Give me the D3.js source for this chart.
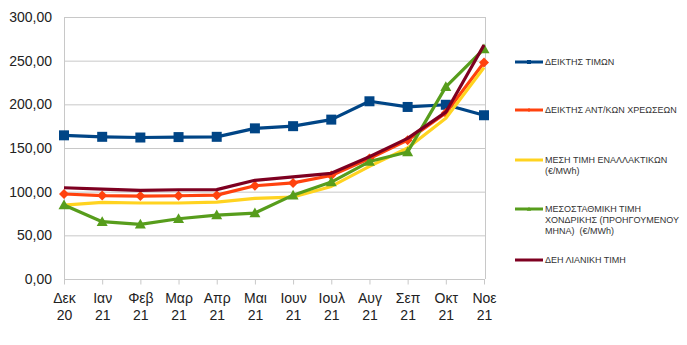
<!DOCTYPE html>
<html>
<head>
<meta charset="utf-8">
<script src="https://cdn.jsdelivr.net/npm/d3@7"></script>
<style>
  html, body { margin: 0; padding: 0; background: #fff; }
  svg { display: block; font-family: "Liberation Sans", Arial, sans-serif; }
  .legend text { white-space: pre; }
</style>
</head>
<body>
<svg id="chart" width="687" height="345"></svg>
<script>
// Months (two-line labels: month / year)
const months = ["Δεκ", "Ιαν", "Φεβ", "Μαρ", "Απρ", "Μαι", "Ιουν", "Ιουλ", "Αυγ", "Σεπ", "Οκτ", "Νοε"];
const years  = ["20", "21", "21", "21", "21", "21", "21", "21", "21", "21", "21", "21"];

// Series values
const priceIndex   = [164.5, 162.8, 162.0, 162.5, 162.8, 172.5, 175.0, 182.5, 203.5, 197.0, 199.5, 187.5];
const chargesIndex = [97.3, 95.5, 95.0, 95.3, 96.0, 106.8, 110.0, 118.5, 138.0, 159.0, 190.0, 248.0];
const altAverage   = [84.7, 87.7, 87.0, 87.0, 88.0, 92.3, 93.8, 106.0, 129.0, 150.0, 184.0, 242.0];
const wholesale    = [84.7, 65.6, 62.6, 69.0, 73.2, 75.5, 96.0, 111.0, 134.5, 145.5, 220.0, 263.5];
const deiRetail    = [104.5, 102.8, 101.5, 102.2, 102.4, 113.0, 117.0, 121.0, 140.0, 161.0, 191.0, 268.0];

const yTicks = [0, 50, 100, 150, 200, 250, 300];

const seriesList = [
  { name: ["ΔΕΙΚΤΗΣ ΤΙΜΩΝ"], values: priceIndex, color: "#004586", marker: "square" },
  { name: ["ΔΕΙΚΤΗΣ ΑΝΤ/ΚΩΝ ΧΡΕΩΣΕΩΝ"], values: chargesIndex, color: "#ff420e", marker: "diamond" },
  { name: ["ΜΕΣΗ ΤΙΜΗ ΕΝΑΛΛΑΚΤΙΚΩΝ", "(€/MWh)"], values: altAverage, color: "#ffd320", marker: null },
  { name: ["ΜΕΣΟΣΤΑΘΜΙΚΗ ΤΙΜΗ", "ΧΟΝΔΡΙΚΗΣ (ΠΡΟΗΓΟΥΜΕΝΟΥ", "ΜΗΝΑ)  (€/MWh)"], values: wholesale, color: "#579d1c", marker: "triangle" },
  { name: ["ΔΕΗ ΛΙΑΝΙΚΗ ΤΙΜΗ"], values: deiRetail, color: "#7e0021", marker: null }
];

const svg = d3.select("#chart");
const plot = { left: 64, right: 485, top: 17, bottom: 279 };

const x = d3.scalePoint().domain(months).range([plot.left, plot.right - 1]);
const y = d3.scaleLinear().domain([0, 300]).range([plot.bottom, plot.top]);

const fmt = v => d3.format(".2f")(v).replace(".", ",");

// Horizontal gridlines
svg.append("g").selectAll("line").data(yTicks).join("line")
  .attr("x1", plot.left).attr("x2", plot.right)
  .attr("y1", d => y(d) + 0.5).attr("y2", d => y(d) + 0.5)
  .attr("stroke", "#c8c8c8").attr("stroke-width", 1);

// Plot frame sides
svg.append("line").attr("x1", plot.left + 0.5).attr("x2", plot.left + 0.5)
  .attr("y1", plot.top).attr("y2", plot.bottom + 5).attr("stroke", "#c8c8c8");
svg.append("line").attr("x1", plot.right + 0.5).attr("x2", plot.right + 0.5)
  .attr("y1", plot.top).attr("y2", plot.bottom).attr("stroke", "#c8c8c8");

// Y axis labels
const yAxis = d3.axisLeft(y).tickValues(yTicks).tickFormat(fmt).tickSize(0).tickPadding(12);
const gy = svg.append("g").attr("transform", `translate(${plot.left},0)`).call(yAxis);
gy.select(".domain").remove();
gy.selectAll("text").attr("font-size", 14).attr("fill", "#222")
  .attr("font-family", "Liberation Sans, Arial, sans-serif");

// X axis: tick marks and two-line labels
const xAxis = d3.axisBottom(x).tickSize(5).tickFormat("");
const gx = svg.append("g").attr("transform", `translate(0,${plot.bottom + 0.5})`).call(xAxis);
gx.select(".domain").attr("stroke", "#c8c8c8").attr("d", `M${plot.left},0H${plot.right}`);
gx.selectAll(".tick line").attr("stroke", "#c8c8c8");
gx.selectAll(".tick").each(function(d, i) {
  const t = d3.select(this).append("text")
    .attr("text-anchor", "middle").attr("fill", "#222")
    .attr("font-size", 14).attr("font-family", "Liberation Sans, Arial, sans-serif");
  t.append("tspan").attr("x", 0).attr("y", 23).text(d);
  t.append("tspan").attr("x", 0).attr("y", 40).text(years[i]);
});

// Marker path generators
function markerPath(type, size) {
  const s = size / 2;
  if (type === "square") return `M${-s},${-s}H${s}V${s}H${-s}Z`;
  if (type === "diamond") return `M0,${-s}L${s},0L0,${s}L${-s},0Z`;
  if (type === "triangle") return `M0,${-s * 1.1}L${s * 1.1},${s * 0.85}L${-s * 1.1},${s * 0.85}Z`;
  return "";
}
const markerSize = { square: 10, diamond: 10, triangle: 10 };

const line = d3.line().x((d, i) => x(months[i])).y(d => y(d));

seriesList.forEach(s => {
  const g = svg.append("g");
  g.append("path").datum(s.values)
    .attr("d", line).attr("fill", "none")
    .attr("stroke", s.color).attr("stroke-width", 3.2)
    .attr("stroke-linejoin", "round");
  if (s.marker) {
    g.selectAll("path.m").data(s.values).join("path").attr("class", "m")
      .attr("transform", (d, i) => `translate(${x(months[i])},${y(d)})`)
      .attr("d", markerPath(s.marker, markerSize[s.marker]))
      .attr("fill", s.color);
  }
});

// Legend
const legendY = [62, 110, 160, 209, 260];
const legend = svg.append("g").attr("class", "legend");
seriesList.forEach((s, i) => {
  const g = legend.append("g").attr("transform", `translate(515,${legendY[i]})`);
  g.append("line").attr("x1", 0).attr("x2", 28).attr("y1", 0).attr("y2", 0)
    .attr("stroke", s.color).attr("stroke-width", 3);
  if (s.marker) {
    g.append("path").attr("transform", "translate(14,0)")
      .attr("d", markerPath(s.marker, 4)).attr("fill", s.color);
  }
  const t = g.append("text").attr("fill", "#333").attr("font-size", 9)
    .attr("font-family", "Liberation Sans, Arial, sans-serif");
  s.name.forEach((ln, k) => {
    t.append("tspan").attr("x", 30).attr("y", 3 + k * 11).text(ln);
  });
});
</script>
</body>
</html>
